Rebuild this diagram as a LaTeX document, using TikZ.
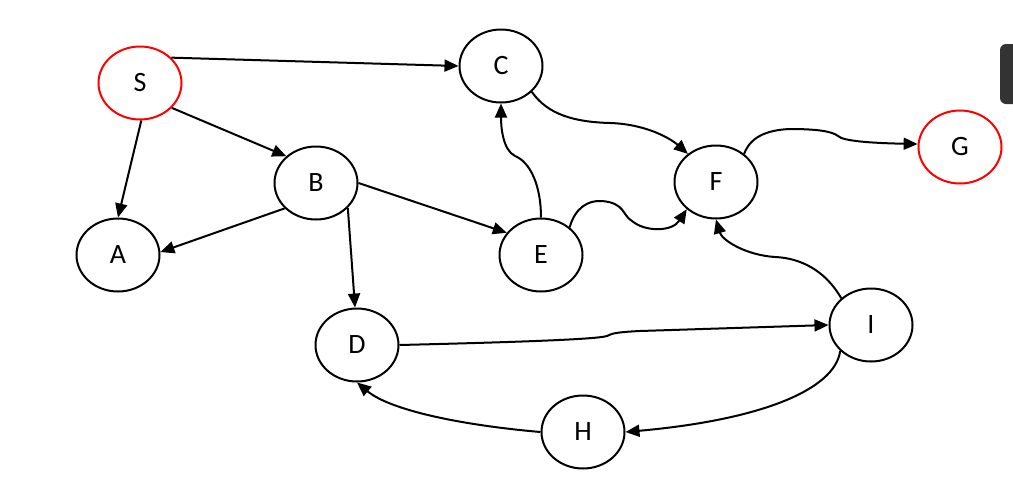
\documentclass[tikz,border=0pt]{standalone}
\usepackage{fontspec}
\setmainfont{Carlito}
\usetikzlibrary{shapes.geometric,arrows.meta}
\begin{document}
\begin{tikzpicture}[x=1pt,y=-1pt,
  st/.style={ellipse,draw,line width=2pt,minimum width=83pt,minimum height=73pt,inner sep=0pt,font=\fontsize{28}{34}\selectfont},
  goal/.style={st,draw=red},
  arr/.style={line width=2pt,-{Triangle[length=14pt,width=12pt]}}]
\useasboundingbox (0,0) rectangle (1013,483);
\clip (0,0) rectangle (1013,483);
\fill[white] (0,0) rectangle (1013,483);
\fill[black!80,rounded corners=6pt] (1000,44) rectangle (1030,104);
\node[goal] (S) at (140,83) {S};
\node[st] (C) at (501,66) {C};
\node[st] (B) at (316,183) {B};
\node[st] (A) at (118,255) {A};
\node[st] (E) at (541,255) {E};
\node[st] (F) at (716,182) {F};
\node[goal] (G) at (960,147) {G};
\node[st] (D) at (357,345) {D};
\node[st] (I) at (871,325) {I};
\node[st] (H) at (583,432) {H};
\draw[arr] (S.39) -- (C.west);
\draw[arr] (S.-38) -- (B.138);
\draw[arr] (S.-88) -- (A.north);
\draw[arr] (B.219) -- (A.4);
\draw[arr] (B.east) -- (E.147);
\draw[arr] (B.-38) -- (D.93);
\draw[arr] (E.north) .. controls (541,185) and (530,162) .. (515,156) .. controls (503,150) and (501,128) .. (C.south);
\draw[arr] (C.-40) .. controls (548,115) and (575,122) .. (610,123) .. controls (645,124) and (670,138) .. (F.135);
\draw[arr] (E.44) .. controls (575,208) and (588,200) .. (602,201) .. controls (625,203) and (622,215) .. (632,221) .. controls (645,232) and (672,232) .. (F.223);
\draw[arr] (F.45) .. controls (750,138) and (765,130) .. (790,129) .. controls (815,129) and (832,131) .. (838,136) .. controls (843,141) and (870,143) .. (G.176);
\draw[arr] (I.138) .. controls (825,270) and (800,258) .. (775,257) .. controls (745,255) and (722,240) .. (F.south);
\draw[arr] (D.east) .. controls (480,343) and (595,340) .. (607,336) .. controls (612,333) and (620,332) .. (640,331) -- (I.west);
\draw[arr] (I.220) .. controls (835,390) and (760,420) .. (H.east);
\draw[arr] (H.west) .. controls (460,425) and (390,410) .. (D.south);
\end{tikzpicture}
\end{document}
